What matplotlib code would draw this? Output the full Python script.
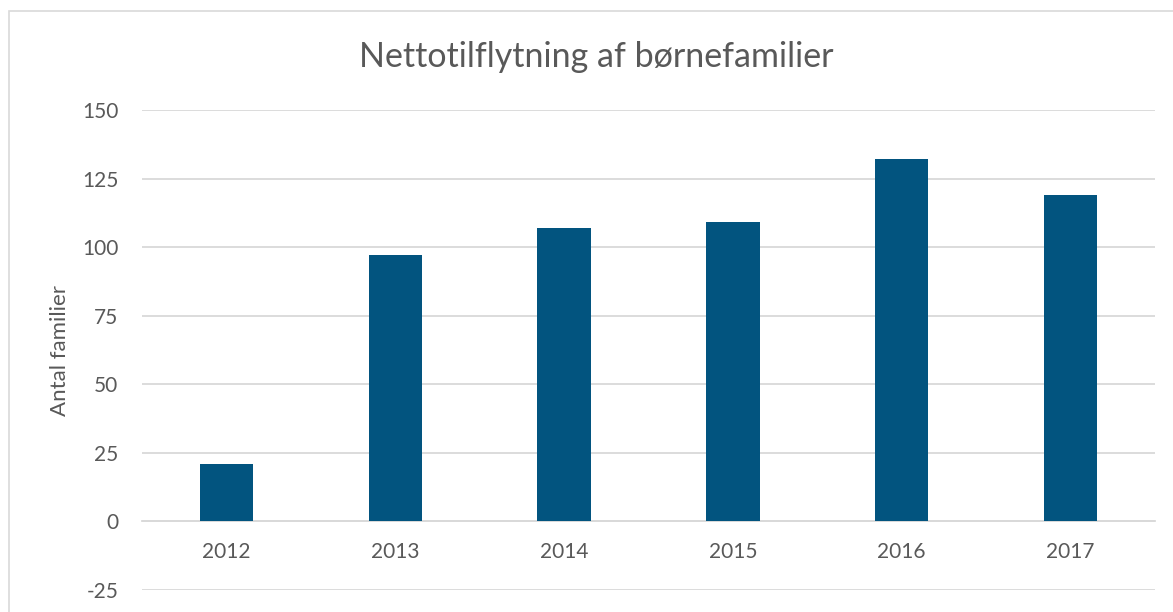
import matplotlib
matplotlib.use('Agg')
import matplotlib.pyplot as plt
from matplotlib.patches import Rectangle

# ── Data ─────────────────────────────────────────────────────────────────────
years = ['2012', '2013', '2014', '2015', '2016', '2017']
families = [21, 97, 107, 109, 132, 119]
y_ticks = [-25, 0, 25, 50, 75, 100, 125, 150]

BAR_COLOR = '#02547F'
GRID_COLOR = '#D9D9D9'
TEXT_COLOR = '#595959'

plt.rcParams['font.family'] = ['Lato', 'DejaVu Sans']

W, H = 1173, 612
fig = plt.figure(figsize=(W / 100, H / 100), dpi=100)

# chart border (extends past the right and bottom edges)
fig.patches.append(Rectangle((9 / W, -0.1), 1.2, (H - 11) / H + 0.1,
                             transform=fig.transFigure, fill=False,
                             edgecolor=GRID_COLOR, lw=1.2))

ax = fig.add_axes([142 / W, 22 / H, (1155 - 142) / W, (590 - 110) / H])
x = range(len(years))
ax.bar(x, families, width=0.315, color=BAR_COLOR, zorder=3)

ax.set_xlim(-0.5, len(years) - 0.5)
ax.set_ylim(-25, 150)
ax.set_yticks(y_ticks)
ax.set_yticklabels([str(t) for t in y_ticks])
ax.set_xticks(list(x))
ax.set_xticklabels(years)

ax.grid(axis='y', color=GRID_COLOR, lw=1.3, zorder=0)
for s in ('top', 'right', 'left'):
    ax.spines[s].set_visible(False)
ax.spines['bottom'].set_position(('data', 0))
ax.spines['bottom'].set_color(GRID_COLOR)
ax.spines['bottom'].set_linewidth(1.3)

ax.tick_params(axis='y', length=0, pad=17, labelsize=15, labelcolor=TEXT_COLOR)
ax.tick_params(axis='x', length=0, pad=15, labelsize=15, labelcolor=TEXT_COLOR)

ax.set_ylabel('Antal familier', fontsize=16, color=TEXT_COLOR, labelpad=9)

fig.text(596 / W, 1 - 57 / H, 'Nettotilflytning af børnefamilier',
         ha='center', va='center', fontsize=24.5, color=TEXT_COLOR)

fig.savefig('out.png', dpi=100)
